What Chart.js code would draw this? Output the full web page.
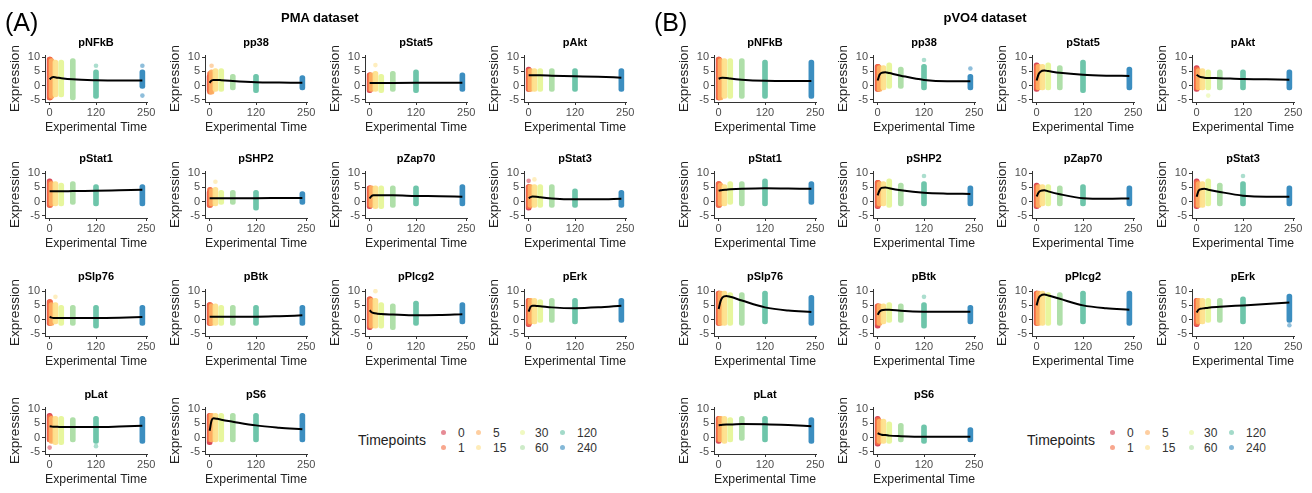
<!DOCTYPE html>
<html>
<head>
<meta charset="utf-8">
<script src="https://cdn.jsdelivr.net/npm/chart.js@4.4.1/dist/chart.umd.min.js"></script>
<style>
  body { margin: 0; background: #fff; font-family: "Liberation Sans", Arial, sans-serif; }
  #page { position: relative; width: 1312px; height: 493px; overflow: hidden; }
  canvas { position: absolute; }
  .txt { position: absolute; white-space: nowrap; color: #000; }
  .tag { font-size: 25px; }
  .head { font-size: 13px; font-weight: bold; }
  .legTitle { font-size: 14px; color: #222; }
  .legLab { font-size: 12px; color: #333; }
  .dot { position: absolute; width: 5px; height: 5px; border-radius: 50%; }
</style>
</head>
<body>
<div id="page"></div>
<script>
// timepoints and markers
const timepoints = [0, 1, 5, 15, 30, 60, 120, 240];
const tpColors = ['#D53E4F', '#F46D43', '#FDAE61', '#FEE08B', '#E6F598', '#ABDDA4', '#66C2A5', '#3288BD'];
const markers = ['pNFkB', 'pp38', 'pStat5', 'pAkt', 'pStat1', 'pSHP2', 'pZap70', 'pStat3',
                 'pSlp76', 'pBtk', 'pPlcg2', 'pErk', 'pLat', 'pS6'];
const xTicks = [0, 120, 250];
const yTicks = [-5, 0, 5, 10];
const curveTimes = [0, 5, 10, 20, 30, 60, 120, 180, 240];

// PMA dataset: spread of cells per timepoint (low / high) and fitted trend
const pmaLow = [
  [-5, -5, -4.5, -4, -4, -5, -4.5, -1],
  [-2.5, -3, -3, -2, -2, -1.5, -2.5, -1.5],
  [-2.5, -2, -2, -2, -2.5, -2, -2.5, -2],
  [-2, -2, -2, -2, -2, -2, -2, -2],
  [-2, -2, -1.5, -1.5, -1.5, -1, -1.5, -1.5],
  [-2, -2, -1.5, -1.5, -1, -1, -3, -1],
  [-2.5, -2, -2, -2.5, -2.5, -2, -1.5, -1.5],
  [-3, -2.5, -2, -2, -2, -2, -2, -2],
  [-2, -2, -2, -1.5, -2, -2, -3, -2],
  [-2, -2, -2, -2, -2, -2, -2, -2],
  [-3.5, -3, -3, -3, -3, -3.5, -2, -1.5],
  [-2.5, -2, -1.5, -1.5, -1, -1, -1.5, -1],
  [-1.5, -1.5, -2, -2.5, -2.5, -1.5, -2, -2],
  [-2.5, -1.5, -1.5, -1.5, -1.5, -1.5, -1.5, -1.5]
];
const pmaHigh = [
  [10, 10, 9.5, 9, 9, 9.5, 5.5, 5.5],
  [4, 5, 5.5, 6, 6, 4, 4, 3.5],
  [4.5, 4.5, 4.5, 5, 4, 5, 5.5, 4.5],
  [6.5, 6, 6, 6, 6, 6, 6, 6],
  [8, 7.5, 7, 7, 6.5, 7, 6, 6],
  [4, 5, 4.5, 5, 4, 4, 4, 3.5],
  [5.5, 5.5, 5.5, 5.5, 5.5, 5.5, 5.5, 6],
  [6, 6, 6, 6, 6, 6, 4.5, 4],
  [7, 7, 6, 6, 5, 5, 5, 5],
  [6, 6, 5.5, 5.5, 5, 5, 5, 5],
  [8, 8, 7.5, 7.5, 6, 5.5, 6.5, 6],
  [7.5, 7.5, 7.5, 7.5, 7, 7.5, 7.5, 7.5],
  [8.5, 8, 7.5, 7.5, 7.5, 7, 7.5, 7.5],
  [8.5, 8.5, 8.5, 8.5, 8.5, 8.5, 8.5, 8.5]
];
const pmaCurve = [
  [2.2, 2.8, 3.0, 2.8, 2.6, 2.2, 1.9, 1.8, 1.8],
  [1.0, 1.8, 2.0, 2.0, 1.9, 1.6, 1.2, 1.1, 1.0],
  [0.9, 0.9, 0.9, 0.9, 0.9, 0.95, 1.0, 1.0, 1.0],
  [3.6, 3.6, 3.6, 3.6, 3.6, 3.5, 3.3, 3.1, 2.8],
  [3.6, 3.6, 3.6, 3.6, 3.6, 3.7, 3.8, 4.0, 4.2],
  [1.2, 1.2, 1.2, 1.2, 1.2, 1.2, 1.2, 1.25, 1.3],
  [1.1, 2.0, 2.2, 2.2, 2.2, 2.2, 2.0, 1.9, 1.7],
  [1.2, 1.6, 1.8, 1.7, 1.5, 1.1, 0.8, 0.8, 1.0],
  [1.0, 0.7, 0.6, 0.6, 0.6, 0.6, 0.6, 0.7, 0.9],
  [1.0, 1.0, 1.0, 1.0, 1.0, 1.0, 1.0, 1.2, 1.5],
  [3.3, 2.6, 2.3, 2.1, 2.0, 1.8, 1.5, 1.6, 1.9],
  [2.8, 4.5, 4.9, 4.8, 4.7, 4.3, 4.0, 4.3, 4.9],
  [4.0, 3.9, 3.8, 3.8, 3.7, 3.7, 3.7, 3.9, 4.2],
  [2.4, 6.0, 6.8, 6.6, 6.3, 5.6, 4.3, 3.5, 2.9]
];
// [marker index, timepoint, value]
const pmaOutliers = [
  [0, 120, 7], [0, 240, 7], [0, 240, -3.5], [1, 5, 7], [2, 15, 7.2], [5, 15, 7],
  [7, 0, 7.3], [7, 15, 7.8], [8, 15, 8], [10, 15, 10], [12, 0, -3.5], [12, 120, -3]
];

// pVO4 dataset
const pvoLow = [
  [-5, -5, -5, -4.5, -4.5, -4.5, -4.5, -4.5],
  [-2, -2, -2, -1.5, -1, -1, -1.5, -1.5],
  [-2, -1.5, -1.5, -1.5, -1.5, -1.5, -2.5, -1.5],
  [-2, -1.5, -1.5, -1.5, -1.5, -1.5, -1.5, -1.5],
  [-2, -2, -1.5, -1.5, -1, -1.5, -1.5, -1],
  [-2.5, -2, -1.5, -1.5, -2, -1.5, -1.5, -1.5],
  [-2.5, -2, -2, -1.5, -1.5, -1.5, -1.5, -1.5],
  [-2.5, -2, -2, -2, -1.5, -1.5, -1.5, -1.5],
  [-2, -2, -2, -2, -2, -2, -1.5, -2],
  [-3, -2, -2, -1.5, -1, -1, -3, -1.5],
  [-2, -2, -2, -2, -2, -2, -1.5, -2],
  [-2.5, -2, -1.5, -1.5, -1, -1, -1.5, -1],
  [-2, -1.5, -1.5, -2, -1.5, -1, -1.5, -2],
  [-3, -2.5, -2, -2, -2, -1.5, -2, -1.5]
];
const pvoHigh = [
  [10, 10, 9.5, 9.5, 9.5, 9.5, 9, 9],
  [7.5, 7.5, 7, 7, 8, 6.5, 7.5, 4],
  [8, 7.5, 7.5, 7.5, 8, 7, 9, 6.5],
  [7, 6.5, 6, 6, 5.5, 5.5, 5.5, 5.5],
  [7, 7, 6.5, 6, 7, 7, 8, 7],
  [7.5, 7.5, 7, 7, 8, 6.5, 7, 5.5],
  [6.5, 6, 6, 6, 6, 5.5, 6, 5.5],
  [8, 7.5, 7, 7, 8, 6.5, 7, 5.5],
  [10, 10, 10, 10, 9.5, 9.5, 10, 8.5],
  [5.5, 5.5, 5.5, 5.5, 6, 5.5, 6, 5],
  [10, 10, 10, 10, 9.5, 9.5, 10, 10],
  [7.5, 7.5, 7.5, 7.5, 7.5, 7.5, 8, 9],
  [7.5, 7.5, 7.5, 7.5, 7, 7.5, 7.5, 7],
  [7.5, 7, 6.5, 6.5, 5.5, 5, 4.5, 3.5]
];
const pvoCurve = [
  [2.4, 2.7, 2.8, 2.7, 2.5, 2.1, 1.7, 1.6, 1.6],
  [1.8, 3.8, 4.5, 4.7, 4.4, 3.5, 2.0, 1.5, 1.5],
  [1.8, 4.0, 4.9, 5.3, 5.1, 4.5, 3.8, 3.5, 3.4],
  [3.8, 3.3, 3.0, 2.8, 2.7, 2.6, 2.3, 2.2, 2.1],
  [3.8, 4.0, 4.1, 4.2, 4.3, 4.5, 4.7, 4.6, 4.5],
  [2.2, 4.0, 4.8, 5.0, 4.7, 4.0, 3.1, 2.8, 2.7],
  [1.8, 3.2, 3.8, 4.0, 3.6, 2.6, 1.2, 1.0, 1.1],
  [1.7, 3.8, 4.3, 4.5, 4.2, 3.4, 2.1, 1.7, 1.7],
  [3.7, 6.5, 7.8, 8.3, 8.0, 6.7, 4.3, 3.2, 2.7],
  [1.7, 2.8, 3.3, 3.5, 3.5, 3.1, 2.8, 2.8, 2.8],
  [5.0, 7.5, 8.4, 8.8, 8.5, 7.3, 5.0, 4.0, 3.5],
  [2.5, 3.5, 3.8, 4.0, 4.2, 4.5, 5.0, 5.5, 6.0],
  [4.3, 4.4, 4.5, 4.6, 4.6, 4.8, 4.7, 4.4, 4.0],
  [1.6, 1.2, 1.0, 0.9, 0.7, 0.5, 0.3, 0.3, 0.3]
];
const pvoOutliers = [
  [1, 120, 9], [1, 240, 6], [3, 30, -3.5], [5, 120, 9], [7, 120, 9], [9, 120, 8], [11, 240, -2]
];

// layout of the small multiples (pixel positions of the x=0 tick / y=10 tick)
const colZero = [[50, 210, 369.5, 529], [718.3, 877.7, 1036.7, 1196.7]];
const rowTen = [57, 173.5, 291.3, 409];
const Y_W = 38, PLOT_W = 102, PAD_R = 14, PAD_T = 24, PLOT_H = 47, X_H = 33, PAD_B = 2;
const X_MIN = -12, X_MAX = 252, Y_MIN = -5.75, Y_MAX = 10.75;
const FONT = '"Liberation Sans", Arial, sans-serif';

const page = document.getElementById('page');

function rgba(hex, a) {
  const n = parseInt(hex.slice(1), 16);
  return `rgba(${n >> 16},${(n >> 8) & 255},${n & 255},${a})`;
}

const panelTitle = {
  id: 'panelTitle',
  afterDraw(chart, args, opts) {
    const { ctx, chartArea } = chart;
    ctx.save();
    ctx.font = 'bold 11px ' + FONT;
    ctx.fillStyle = '#000';
    ctx.textAlign = 'center';
    ctx.textBaseline = 'middle';
    ctx.fillText(opts.text, (chartArea.left + chartArea.right) / 2, chartArea.top - 12);
    ctx.restore();
  }
};

function addText(cls, text, left, top) {
  const d = document.createElement('div');
  d.className = 'txt ' + cls;
  d.textContent = text;
  d.style.left = left + 'px';
  d.style.top = top + 'px';
  page.appendChild(d);
  return d;
}

function drawSmall(p, m, low, high, curve, outliers) {
  const col = m % 4, row = Math.floor(m / 4);
  const pxPerUnit = PLOT_W / (X_MAX - X_MIN);
  const plotLeft = Math.round(colZero[p][col] + X_MIN * pxPerUnit);
  const plotTop = Math.round(rowTen[row] - (Y_MAX - 10) * (PLOT_H / (Y_MAX - Y_MIN)));
  const cv = document.createElement('canvas');
  cv.width = Y_W + PLOT_W + PAD_R;
  cv.height = PAD_T + PLOT_H + X_H + PAD_B;
  cv.style.left = (plotLeft - Y_W) + 'px';
  cv.style.top = (plotTop - PAD_T) + 'px';
  page.appendChild(cv);

  const strips = timepoints.map((t, i) => ({ x: t, y: [low[i], high[i]] }));
  const trend = curveTimes.map((t, i) => ({ x: t, y: curve[i] }));
  const mine = outliers.filter(o => o[0] === m);
  const extra = mine.map(o => ({ x: o[1], y: o[2] }));
  const extraCol = mine.map(o => rgba(tpColors[timepoints.indexOf(o[1])], 0.55));

  const tickFont = { family: FONT, size: 11 };
  const titleFont = { family: FONT, size: 13.5 };

  new Chart(cv, {
    type: 'bar',
    data: {
      datasets: [
        {
          type: 'line', data: trend, borderColor: '#000', borderWidth: 2,
          pointRadius: 0, cubicInterpolationMode: 'monotone', order: 0
        },
        {
          type: 'scatter', data: extra, backgroundColor: extraCol, borderWidth: 0,
          pointRadius: 2.3, order: 1
        },
        {
          type: 'bar', data: strips,
          backgroundColor: timepoints.map((t, i) => rgba(tpColors[i], 0.95)),
          barThickness: 5, borderRadius: 3, borderSkipped: false, grouped: false, order: 2
        }
      ]
    },
    options: {
      responsive: false,
      animation: false,
      events: [],
      layout: { padding: { top: PAD_T, right: PAD_R, bottom: PAD_B, left: 0 } },
      plugins: { legend: { display: false }, tooltip: { enabled: false }, panelTitle: { text: markers[m] } },
      scales: {
        x: {
          type: 'linear', min: X_MIN, max: X_MAX, offset: false,
          grid: { display: true, drawOnChartArea: false, drawTicks: true, tickLength: 3, color: '#333', offset: false },
          border: { display: true, color: '#333', width: 1 },
          ticks: { font: tickFont, color: '#4d4d4d', padding: 1, maxRotation: 0, autoSkip: false },
          afterBuildTicks: s => { s.ticks = xTicks.map(v => ({ value: v })); },
          afterFit: s => { s.height = X_H; },
          title: { display: true, text: 'Experimental Time', font: titleFont, color: '#222', padding: 0 }
        },
        y: {
          type: 'linear', min: Y_MIN, max: Y_MAX,
          grid: { display: true, drawOnChartArea: false, drawTicks: true, tickLength: 3, color: '#333' },
          border: { display: true, color: '#333', width: 1 },
          ticks: { font: tickFont, color: '#4d4d4d', padding: 2, autoSkip: false },
          afterBuildTicks: s => { s.ticks = yTicks.map(v => ({ value: v })); },
          afterFit: s => { s.width = Y_W; },
          title: { display: true, text: 'Expression', font: titleFont, color: '#222', padding: 0 }
        }
      }
    },
    plugins: [panelTitle]
  });
}

for (let m = 0; m < markers.length; m++) {
  drawSmall(0, m, pmaLow[m], pmaHigh[m], pmaCurve[m], pmaOutliers);
  drawSmall(1, m, pvoLow[m], pvoHigh[m], pvoCurve[m], pvoOutliers);
}

// panel tags and headings
addText('tag', '(A)', 5, 8);
addText('tag', '(B)', 654, 8);
const h1 = addText('head', 'PMA dataset', 0, 10);
h1.style.left = (320 - h1.offsetWidth / 2) + 'px';
const h2 = addText('head', 'pVO4 dataset', 0, 10);
h2.style.left = (985 - h2.offsetWidth / 2) + 'px';

// legends
const legendLeft = [358, 1027];
const dotOff = [0, 35, 79, 119];
const labOff = [15, 50, 92, 134];
legendLeft.forEach(L => {
  addText('legTitle', 'Timepoints', L, 432);
  const d0 = L + 85;
  timepoints.forEach((tp, i) => {
    const c = Math.floor(i / 2), r = i % 2;
    const cy = r === 0 ? 432.5 : 447.5;
    const dot = document.createElement('div');
    dot.className = 'dot';
    dot.style.background = rgba(tpColors[i], 0.6);
    dot.style.left = (d0 + dotOff[c] - 2.5) + 'px';
    dot.style.top = (cy - 2.5) + 'px';
    page.appendChild(dot);
    addText('legLab', String(tp), d0 + labOff[c], cy - 7);
  });
});
</script>
</body>
</html>
